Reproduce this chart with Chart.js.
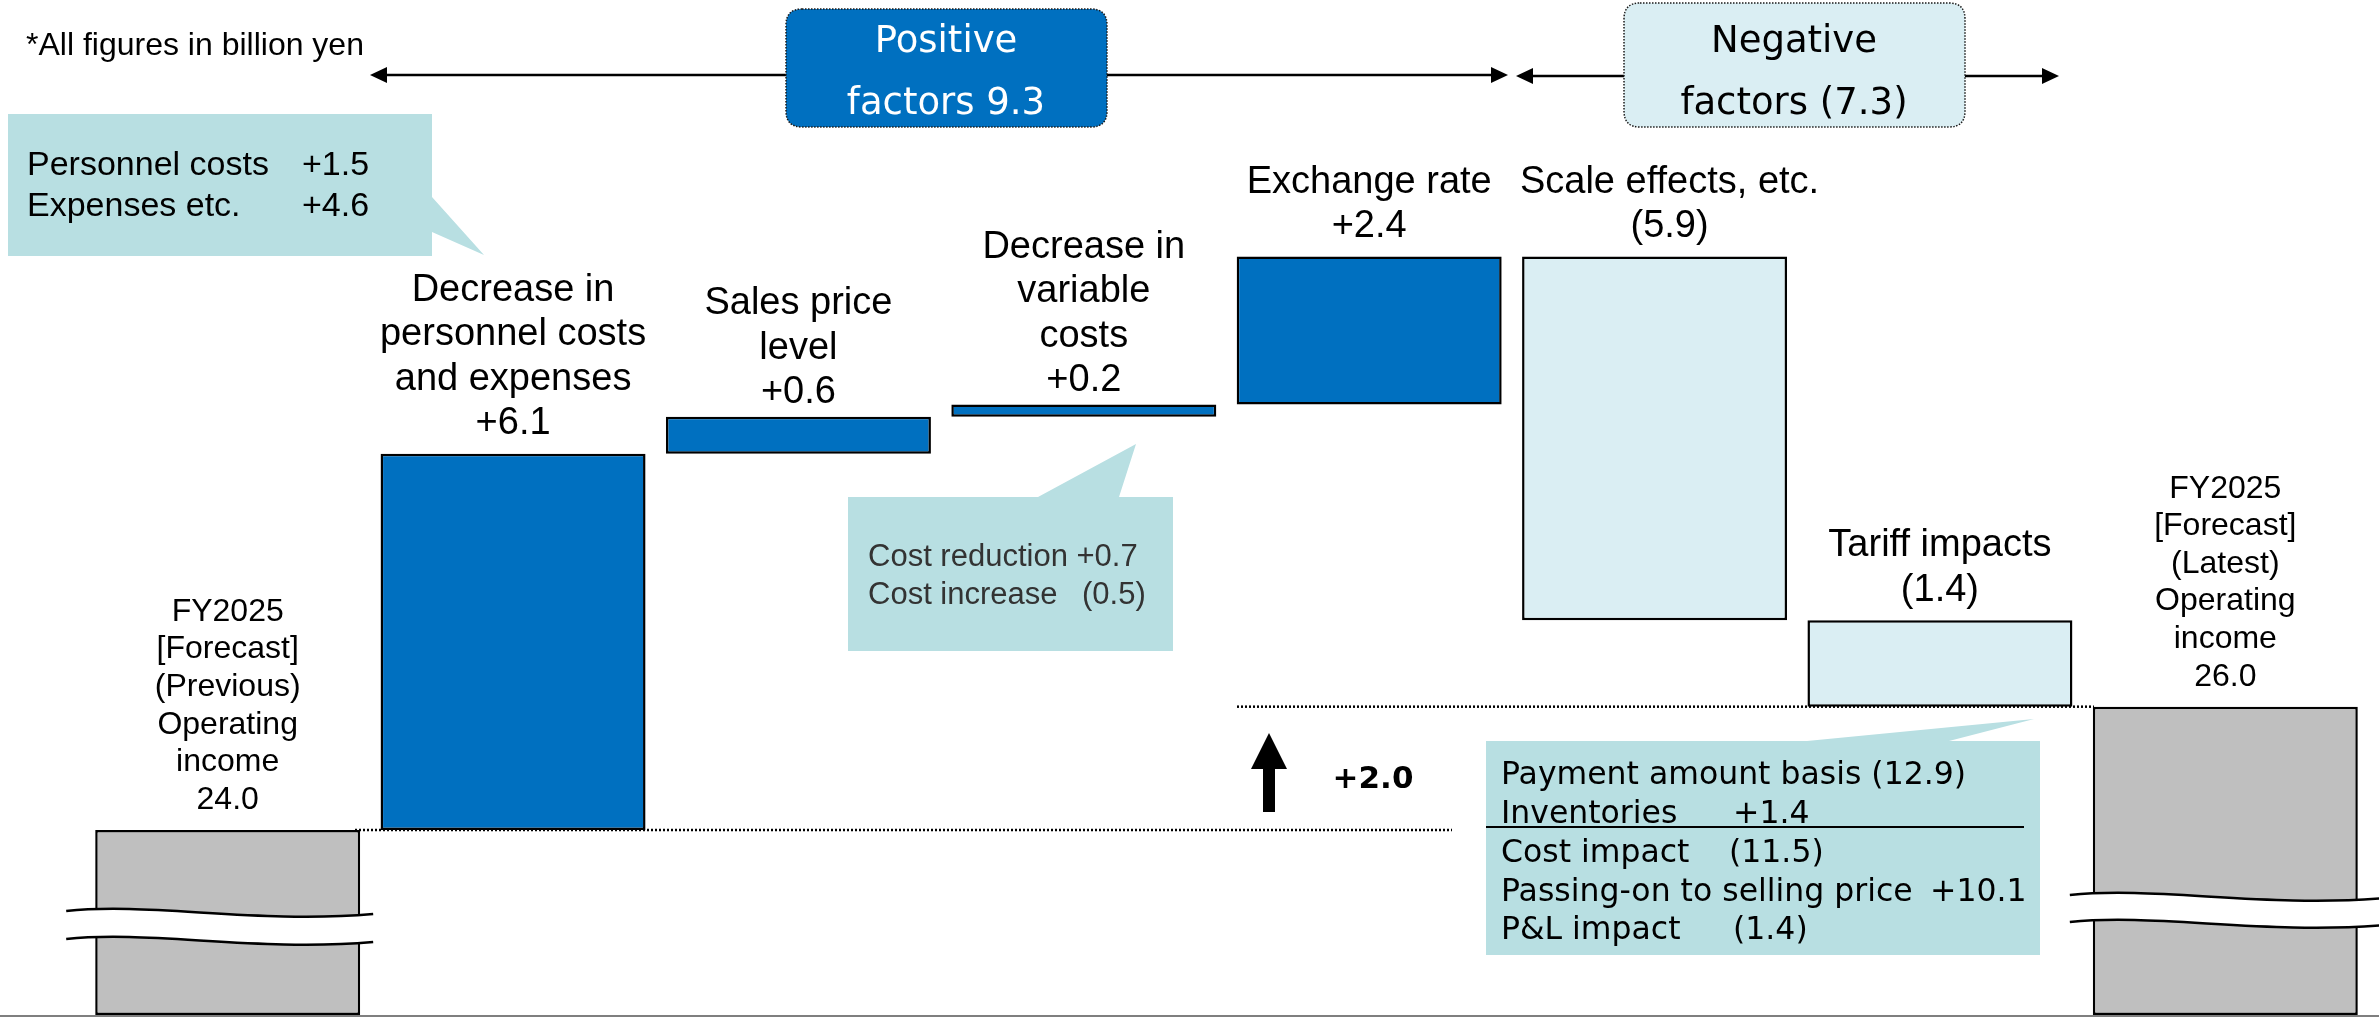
<!DOCTYPE html>
<html><head><meta charset="utf-8">
<script src="https://cdn.jsdelivr.net/npm/chart.js@4/dist/chart.umd.min.js"></script>
<style>html,body{margin:0;padding:0;background:#fff;}#wrap{width:2379px;height:1017px;position:relative;}</style>
</head><body><div id="wrap"><canvas id="c" width="2379" height="1017"></canvas></div>
<script>
// ---------- data ----------
const categories = [
  'FY2025 [Forecast] (Previous) Operating income',
  'Decrease in personnel costs and expenses',
  'Sales price level',
  'Decrease in variable costs',
  'Exchange rate',
  'Scale effects, etc.',
  'Tariff impacts',
  'FY2025 [Forecast] (Latest) Operating income'
];
const categoryLines = [
  ['FY2025', '[Forecast]', '(Previous)', 'Operating', 'income'],
  ['Decrease in', 'personnel costs', 'and expenses'],
  ['Sales price', 'level'],
  ['Decrease in', 'variable', 'costs'],
  ['Exchange rate'],
  ['Scale effects, etc.'],
  ['Tariff impacts'],
  ['FY2025', '[Forecast]', '(Latest)', 'Operating', 'income']
];
const valueLabels = ['24.0', '+6.1', '+0.6', '+0.2', '+2.4', '(5.9)', '(1.4)', '26.0'];
const barLow  = [21.0, 24.0, 30.1, 30.7, 30.9, 27.4, 26.0, 21.0];
const barHigh = [24.0, 30.1, 30.7, 30.9, 33.3, 33.3, 27.4, 26.0];
const startValue = 24.0;
const endValue = 26.0;
const netChangeLabel = '+2.0';
const positiveLines = ['Positive', 'factors 9.3'];
const negativeLines = ['Negative', 'factors (7.3)'];
const noteText = '*All figures in billion yen';
const callout1 = [['Personnel costs', '+1.5'], ['Expenses etc.', '+4.6']];
const callout2 = [['Cost reduction +0.7', ''], ['Cost increase', '(0.5)']];
const callout3 = [
  ['Payment amount basis (12.9)', ''],
  ['Inventories', '+1.4'],
  ['Cost impact', '(11.5)'],
  ['Passing-on to selling price', '+10.1'],
  ['P&L impact', '(1.4)']
];
const yMin = 21.0, yMax = 37.46;

// ---------- styles ----------
const BLUE = '#0070C0', PALE = '#DAEEF3', GREY = '#BFBFBF', TEAL = '#B8DFE2';
const barColors = [GREY, BLUE, BLUE, BLUE, BLUE, PALE, PALE, GREY];
const labelGap = [30, 30, 24, 24, 30, 30, 30, 30];
const ARIAL = '"Liberation Sans", Arial, sans-serif';
const TAHOMA = '"DejaVu Sans", Verdana, sans-serif';

function arrowHead(ctx, tx, ty, dir) {
  ctx.beginPath();
  ctx.moveTo(tx, ty);
  ctx.lineTo(tx - dir * 17, ty - 8);
  ctx.lineTo(tx - dir * 17, ty + 8);
  ctx.closePath();
  ctx.fill();
}
function hArrow(ctx, x0, x1, y, headLeft, headRight) {
  ctx.beginPath();
  ctx.moveTo(x0 + (headLeft ? 10 : 0), y);
  ctx.lineTo(x1 - (headRight ? 10 : 0), y);
  ctx.stroke();
  if (headLeft) arrowHead(ctx, x0, y, -1);
  if (headRight) arrowHead(ctx, x1, y, 1);
}
function roundRect(ctx, x, y, w, h, r) {
  ctx.beginPath();
  ctx.moveTo(x + r, y);
  ctx.lineTo(x + w - r, y);
  ctx.quadraticCurveTo(x + w, y, x + w, y + r);
  ctx.lineTo(x + w, y + h - r);
  ctx.quadraticCurveTo(x + w, y + h, x + w - r, y + h);
  ctx.lineTo(x + r, y + h);
  ctx.quadraticCurveTo(x, y + h, x, y + h - r);
  ctx.lineTo(x, y + r);
  ctx.quadraticCurveTo(x, y, x + r, y);
  ctx.closePath();
}
function waveBreak(ctx, x0, x1, y, gap) {
  const w = x1 - x0;
  const c1 = [x0 + w * 0.27, y - 9], c2 = [x0 + w * 0.62, y + 13], e = [x1, y + 3];
  ctx.save();
  ctx.beginPath();
  ctx.moveTo(x0, y);
  ctx.bezierCurveTo(c1[0], c1[1], c2[0], c2[1], e[0], e[1]);
  ctx.lineTo(e[0], e[1] + gap);
  ctx.bezierCurveTo(c2[0], c2[1] + gap, c1[0], c1[1] + gap, x0, y + gap);
  ctx.closePath();
  ctx.fillStyle = '#fff';
  ctx.fill();
  ctx.strokeStyle = '#000';
  ctx.lineWidth = 2.5;
  for (const off of [0, gap]) {
    ctx.beginPath();
    ctx.moveTo(x0, y + off);
    ctx.bezierCurveTo(c1[0], c1[1] + off, c2[0], c2[1] + off, e[0], e[1] + off);
    ctx.stroke();
  }
  ctx.restore();
}

const annotations = {
  id: 'annotations',
  beforeDatasetsDraw(chart) {
    const ctx = chart.ctx, ys = chart.scales.y;
    ctx.save();
    ctx.strokeStyle = '#000';
    ctx.lineWidth = 2.5;
    ctx.setLineDash([2, 2]);
    const yS = ys.getPixelForValue(startValue), yE = ys.getPixelForValue(endValue);
    ctx.beginPath(); ctx.moveTo(355, yS); ctx.lineTo(1452, yS); ctx.stroke();
    ctx.beginPath(); ctx.moveTo(1237, yE); ctx.lineTo(2094, yE); ctx.stroke();
    ctx.restore();
  },
  afterDatasetsDraw(chart) {
    const ctx = chart.ctx;
    const meta = chart.getDatasetMeta(0);
    ctx.save();
    // bottom axis line
    ctx.strokeStyle = '#7F7F7F'; ctx.lineWidth = 2;
    ctx.beginPath(); ctx.moveTo(0, 1016); ctx.lineTo(2379, 1016); ctx.stroke();

    // axis breaks on total bars
    const b0 = meta.data[0], b7 = meta.data[7];
    waveBreak(ctx, b0.x - b0.width / 2 - 29, b0.x + b0.width / 2 + 13, 911, 28);
    waveBreak(ctx, b7.x - b7.width / 2 - 23, 2385, 895, 27);

    // labels above bars
    ctx.fillStyle = '#000';
    ctx.textAlign = 'center';
    ctx.textBaseline = 'middle';
    meta.data.forEach((el, i) => {
      const top = Math.min(el.y, el.base);
      const isTotal = (i === 0 || i === 7);
      const size = isTotal ? 32 : 38;
      const lh = isTotal ? 37.6 : 44.5;
      const lines = categoryLines[i].concat([valueLabels[i]]);
      const dx = (i === 5) ? 15 : 0;
      ctx.font = size + 'px ' + ARIAL;
      const last = top - labelGap[i];
      lines.forEach((t, k) => {
        ctx.fillText(t, el.x + dx, last - (lines.length - 1 - k) * lh);
      });
    });

    // note
    ctx.textAlign = 'left';
    ctx.font = '32px ' + ARIAL;
    ctx.fillText(noteText, 26, 46);

    // top factor arrows
    ctx.strokeStyle = '#000'; ctx.fillStyle = '#000'; ctx.lineWidth = 2.5;
    hArrow(ctx, 370, 786, 75, true, false);
    hArrow(ctx, 1107, 1508, 75, false, true);
    hArrow(ctx, 1516, 1624, 76, true, false);
    hArrow(ctx, 1965, 2059, 76, false, true);

    // positive box
    roundRect(ctx, 786, 9, 321, 118, 16);
    ctx.fillStyle = BLUE; ctx.fill();
    ctx.setLineDash([1.5, 1.5]); ctx.lineWidth = 1.5; ctx.strokeStyle = '#1a1a1a'; ctx.stroke();
    ctx.setLineDash([]);
    ctx.fillStyle = '#fff'; ctx.textAlign = 'center'; ctx.font = '37px ' + TAHOMA;
    ctx.fillText(positiveLines[0], 946, 42);
    ctx.fillText(positiveLines[1], 946, 104);

    // negative box
    roundRect(ctx, 1624, 3, 341, 124, 16);
    ctx.fillStyle = PALE; ctx.fill();
    ctx.setLineDash([1.5, 1.5]); ctx.lineWidth = 1.5; ctx.strokeStyle = '#1a1a1a'; ctx.stroke();
    ctx.setLineDash([]);
    ctx.fillStyle = '#000';
    ctx.fillText(negativeLines[0], 1794, 42);
    ctx.fillText(negativeLines[1], 1794, 104);

    // callout 1
    ctx.fillStyle = TEAL;
    ctx.beginPath();
    ctx.moveTo(8, 114); ctx.lineTo(432, 114); ctx.lineTo(432, 197); ctx.lineTo(484, 255);
    ctx.lineTo(432, 232); ctx.lineTo(432, 256); ctx.lineTo(8, 256); ctx.closePath(); ctx.fill();
    ctx.fillStyle = '#000'; ctx.textAlign = 'left'; ctx.font = '34px ' + ARIAL;
    callout1.forEach((r, k) => {
      ctx.fillText(r[0], 27, 166 + k * 41);
      ctx.fillText(r[1], 302, 166 + k * 41);
    });

    // callout 2
    ctx.fillStyle = TEAL;
    ctx.beginPath();
    ctx.moveTo(848, 497); ctx.lineTo(1038, 497); ctx.lineTo(1136, 444); ctx.lineTo(1119, 497);
    ctx.lineTo(1173, 497); ctx.lineTo(1173, 651); ctx.lineTo(848, 651); ctx.closePath(); ctx.fill();
    ctx.fillStyle = '#333'; ctx.font = '31px ' + ARIAL;
    ctx.fillText(callout2[0][0], 868, 557);
    ctx.fillText(callout2[1][0], 868, 595);
    ctx.fillText(callout2[1][1], 1082, 595);

    // callout 3
    ctx.fillStyle = TEAL;
    ctx.beginPath();
    ctx.moveTo(1486, 741); ctx.lineTo(1807, 741); ctx.lineTo(2034, 719); ctx.lineTo(1949, 741);
    ctx.lineTo(2040, 741); ctx.lineTo(2040, 955); ctx.lineTo(1486, 955); ctx.closePath(); ctx.fill();
    ctx.fillStyle = '#000'; ctx.font = '31.5px ' + TAHOMA;
    const valX = [0, 1733, 1729, 1930, 1733];
    callout3.forEach((r, k) => {
      const yy = 776 + k * 38.8;
      ctx.fillText(r[0], 1501, yy);
      if (r[1]) ctx.fillText(r[1], valX[k], yy);
    });
    ctx.strokeStyle = '#000'; ctx.lineWidth = 2;
    ctx.beginPath(); ctx.moveTo(1486, 827); ctx.lineTo(2024, 827); ctx.stroke();

    // net change arrow
    ctx.fillStyle = '#000';
    ctx.beginPath();
    ctx.moveTo(1269, 733); ctx.lineTo(1287, 769); ctx.lineTo(1275, 769); ctx.lineTo(1275, 812);
    ctx.lineTo(1263, 812); ctx.lineTo(1263, 769); ctx.lineTo(1251, 769); ctx.closePath(); ctx.fill();
    ctx.textAlign = 'center'; ctx.font = 'bold 31px ' + TAHOMA;
    ctx.fillText(netChangeLabel, 1373, 780);
    ctx.restore();
  }
};

new Chart(document.getElementById('c'), {
  type: 'bar',
  data: {
    labels: categories,
    datasets: [{
      data: barLow.map((lo, i) => [lo, barHigh[i]]),
      backgroundColor: barColors,
      borderColor: '#000',
      borderWidth: 2.5,
      borderSkipped: false,
      categoryPercentage: 1.0,
      barPercentage: 0.9285
    }]
  },
  options: {
    responsive: false,
    animation: false,
    layout: { padding: { left: 85, right: 11, top: 0, bottom: 2 } },
    plugins: { legend: { display: false }, tooltip: { enabled: false } },
    scales: {
      x: { display: false, offset: true, grid: { display: false } },
      y: { display: false, min: yMin, max: yMax, grid: { display: false } }
    }
  },
  plugins: [annotations]
});
</script></body></html>
